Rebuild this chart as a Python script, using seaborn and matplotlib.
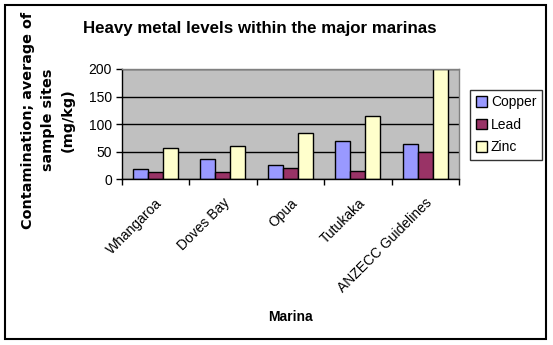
import matplotlib
matplotlib.use("Agg")
import matplotlib.pyplot as plt
import seaborn as sns
import pandas as pd
import numpy as np
from matplotlib.patches import Rectangle

marinas = ["Whangaroa", "Doves Bay", "Opua", "Tutukaka", "ANZECC Guidelines"]
copper = [18, 36, 25, 69, 63]
lead = [12, 12, 20, 14, 49]
zinc = [56, 60, 84, 114, 200]
metals = ["Copper", "Lead", "Zinc"]
colors = ["#9999FF", "#993366", "#FFFFCC"]
yticks = [0, 50, 100, 150, 200]

df = pd.DataFrame({
    "Marina": marinas * 3,
    "Metal": ["Copper"] * 5 + ["Lead"] * 5 + ["Zinc"] * 5,
    "Value": copper + lead + zinc,
})

sns.set_style("white")
plt.rcParams["font.family"] = ["Liberation Sans", "DejaVu Sans"]
plt.rcParams["text.color"] = "black"
plt.rcParams["axes.labelcolor"] = "black"
plt.rcParams["xtick.color"] = "black"
plt.rcParams["ytick.color"] = "black"

fig = plt.figure(figsize=(5.53, 3.45), dpi=100)
ax = fig.add_axes([0.22, 0.481, 0.61, 0.319])
ax.set_facecolor("#C0C0C0")

sns.barplot(data=df, x="Marina", y="Value", hue="Metal", palette=colors,
            order=marinas, hue_order=metals, width=0.67, saturation=1,
            edgecolor="black", linewidth=1, ax=ax, legend=True)

ax.set_ylim(0, 200)
ax.set_xlim(-0.5, len(marinas) - 0.5)
ax.set_yticks(yticks)
ax.yaxis.grid(True, color="black", linewidth=1)
ax.set_axisbelow(True)
for s in ax.spines.values():
    s.set_color("#808080")
    s.set_linewidth(1)
ax.spines["left"].set_color("black")
ax.spines["bottom"].set_color("black")

ax.tick_params(axis="y", which="major", direction="out", length=4, width=1,
               color="black", labelsize=10, left=True, pad=3)
ax.tick_params(axis="x", which="major", length=0, labelsize=10, pad=12)
ax.set_xticks(np.arange(-0.5, len(marinas), 1.0), minor=True)
ax.tick_params(axis="x", which="minor", direction="out", length=4, width=1,
               color="black", bottom=True)
for lab in ax.get_xticklabels():
    lab.set_rotation(45)
    lab.set_ha("right")
    lab.set_rotation_mode("anchor")

ax.set_xlabel("Marina", fontsize=10, fontweight="bold")
ax.set_ylabel("Contamination; average of\nsample sites\n(mg/kg)", fontsize=10.4,
              fontweight="bold", linespacing=1.55,
              family=["DejaVu Sans"])
ax.yaxis.set_label_coords(-0.139, 0.535)
ax.xaxis.set_label_coords(0.5, -1.19)
fig.suptitle("Heavy metal levels within the major marinas", x=0.469, y=0.938,
             fontsize=12.2, fontweight="bold")

leg = ax.legend(loc="upper left", bbox_to_anchor=(1.033, 0.81), frameon=True,
                fancybox=False, edgecolor="black", fontsize=10,
                handlelength=0.8, handleheight=0.8, handletextpad=0.3,
                borderpad=0.4, labelspacing=0.6, borderaxespad=0)
leg.get_frame().set_linewidth(1)

fig.patches.append(Rectangle((0.009, 0.0174), 0.978, 0.968, transform=fig.transFigure,
                             fill=False, edgecolor="black", linewidth=1.5))

fig.savefig("out.png", dpi=100)
